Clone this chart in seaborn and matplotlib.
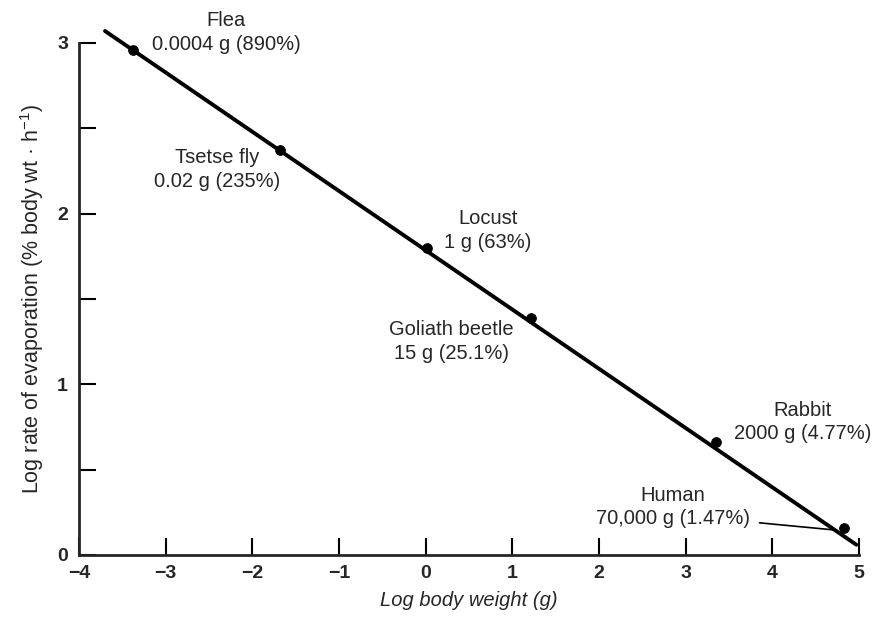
import numpy as np
import pandas as pd
import seaborn as sns
import matplotlib.pyplot as plt

# animals, log body weight (g) and log evaporation rate (% body wt per h)
animals = ["Flea", "Tsetse fly", "Locust", "Goliath beetle", "Rabbit", "Human"]
details = ["0.0004 g (890%)", "0.02 g (235%)", "1 g (63%)",
           "15 g (25.1%)", "2000 g (4.77%)", "70,000 g (1.47%)"]
log_weight = [-3.38, -1.68, 0.01, 1.22, 3.35, 4.83]
log_rate = [2.96, 2.37, 1.80, 1.39, 0.66, 0.16]

# fitted line ends
fit_x = [-3.70, 4.97]
fit_y = [3.07, 0.06]

# label centres
label_x = [-2.30, -2.41, 0.72, 0.30, 4.35, 2.85]
label_y = [3.06, 2.26, 1.90, 1.25, 0.78, 0.28]

df = pd.DataFrame({"animal": animals, "x": log_weight, "y": log_rate})
fit = pd.DataFrame({"x": fit_x, "y": fit_y})

sns.set_theme(style="ticks")
plt.rcParams["font.family"] = ["Liberation Sans", "DejaVu Sans"]
plt.rcParams["mathtext.fontset"] = "custom"
plt.rcParams["mathtext.rm"] = "Liberation Sans"

fig = plt.figure(figsize=(8.81, 6.21), dpi=100)
ax = fig.add_axes([0.0897, 0.1063, 0.8853, 0.8245])

sns.lineplot(data=fit, x="x", y="y", color="black", linewidth=2.8, ax=ax)
ax.lines[-1].set_clip_on(False)
sns.scatterplot(data=df, x="x", y="y", color="black", s=50, edgecolor="black",
                zorder=5, clip_on=False, ax=ax)

for i in range(len(animals)):
    ax.text(label_x[i], label_y[i], animals[i] + "\n" + details[i],
            ha="center", va="center", multialignment="center",
            fontsize=14.5, linespacing=1.3)

# leader line for the human label
ax.annotate("", xy=(4.75, 0.145), xytext=(3.82, 0.19),
            arrowprops=dict(arrowstyle="-", color="black", lw=1.2))

ax.set_xlim(-4, 5)
ax.set_ylim(0, 3)
ax.set_xticks(range(-4, 6))
ax.set_xticklabels(["\u22124", "\u22123", "\u22122", "\u22121", "0", "1", "2", "3", "4", "5"])
ax.set_yticks([0, 1, 2, 3])
ax.set_yticks([0.5, 1.5, 2.5], minor=True)
ax.tick_params(axis="both", which="both", direction="in", length=12, width=1.5,
               labelsize=14, color="black")
ax.tick_params(axis="x", pad=7)
ax.tick_params(axis="y", pad=8)
for lab in ax.get_xticklabels() + ax.get_yticklabels():
    lab.set_fontweight("bold")

sns.despine(ax=ax)
ax.spines["left"].set_linewidth(2)
ax.spines["bottom"].set_linewidth(2)

ax.set_xlabel("Log body weight (g)", fontsize=14.5, style="italic", labelpad=7)
ax.set_ylabel("Log rate of evaporation (% body wt \u00b7 h$^{-1}$)", fontsize=15.5, labelpad=8)

plt.savefig("out.png", dpi=100)
